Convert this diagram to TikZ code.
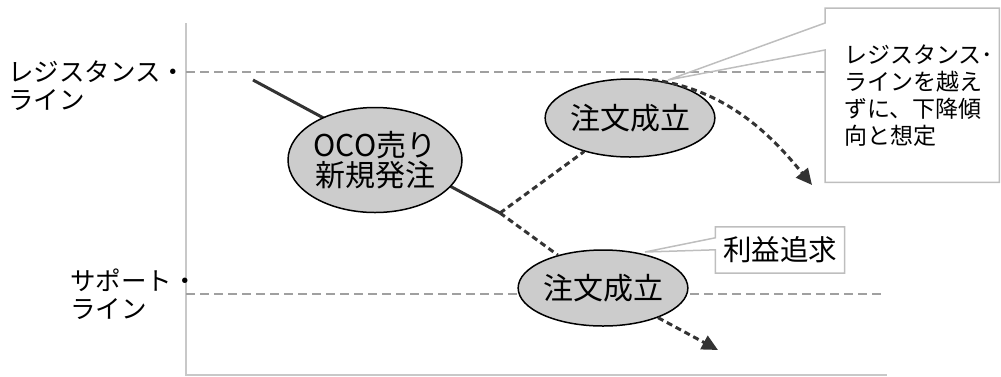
\documentclass[tikz,border=0pt]{standalone}
\usepackage{fontspec}
\setmainfont{Noto Sans CJK JP}
\usetikzlibrary{arrows.meta,shapes.geometric,calc}

\definecolor{axisgray}{HTML}{C8C8C8}
\definecolor{levelgray}{HTML}{A0A0A0}
\definecolor{notegray}{HTML}{BEBEBE}
\definecolor{trendgray}{HTML}{333333}
\definecolor{ovalfill}{HTML}{CCCCCC}

\tikzset{
  axisline/.style={axisgray, line width=2pt},
  levelline/.style={levelgray, line width=2pt, dash pattern=on 9pt off 5pt},
  trendline/.style={trendgray, line width=3pt},
  trenddash/.style={trendgray, line width=3pt, dash pattern=on 6pt off 4pt},
  trendarrow/.style={trenddash, -{Triangle[length=16pt,width=15pt]}},
  oval/.style={ellipse, draw=black, line width=1.5pt, fill=ovalfill, inner sep=0pt,
    align=center, font=\fontsize{30}{30}\selectfont},
  sidelabel/.style={align=left, inner sep=0pt, font=\fontsize{25.5}{28}\selectfont},
  noteline/.style={notegray, line width=1.5pt}
}

\begin{document}
\begin{tikzpicture}[x=1pt,y=-1pt]
  \useasboundingbox (0,0) rectangle (1001,376);

  % axes
  \coordinate (origin) at (186,375);
  \draw[axisline] (186,23) -- (origin) -- (887,375);

  % resistance / support
  \draw[levelline] (186,72) -- (825,72);
  \draw[levelline] (186,294) -- (885,294);
  \node[sidelabel, anchor=west] (reslabel) at (8,86) {レジスタンス・\\ライン};
  \node[sidelabel, anchor=west] (suplabel) at (70,294) {サポート・\\ライン};

  % price path
  \coordinate (start) at (253,80);
  \coordinate (kink) at (500,213);
  \coordinate (upend) at (812,185);
  \coordinate (downend) at (718,350);
  \draw[trendline] (start) -- (kink);
  \node[oval, minimum width=174, minimum height=105] (oco) at (375,160) {OCO売り\\新規発注};
  \node[oval, minimum width=158, minimum height=78] (upfill) at (630,118) {注文成立};
  \node[oval, minimum width=162, minimum height=76] (downfill) at (603,288) {注文成立};
  \draw[trenddash] (kink) -- (upfill);
  \draw[trenddash] (kink) -- (downfill);
  \draw[trendarrow] (upfill.60) .. controls (730,90) and (775,140) .. (upend);
  \draw[trendarrow] (downfill) -- (downend);

  % notes
  \node[text width=174, minimum width=174, minimum height=174, inner xsep=0pt, anchor=north west,
    align=left, font=\fontsize{23}{27}\selectfont] (resnote) at (825,8)
    {\hspace*{19pt}レジスタンス･\\\hspace*{19pt}ラインを越え\\\hspace*{19pt}ずに、下降傾\\\hspace*{19pt}向と想定};
  \coordinate (restip) at (668,80);
  \draw[noteline] ($(resnote.north west)+(0,15)$) -- (restip) -- ($(resnote.north west)+(0,42)$)
    |- (resnote.south east) |- (resnote.north west) -- cycle;

  \node[minimum width=129, minimum height=46, font=\fontsize{28.5}{30}\selectfont] (gainnote) at (780,250) {利益追求};
  \coordinate (gaintip) at (645,252);
  \draw[noteline] ($(gainnote.north west)+(0,11)$) -- (gaintip) -- ($(gainnote.north west)+(0,23)$)
    |- (gainnote.south east) |- (gainnote.north west) -- cycle;
\end{tikzpicture}
\end{document}
